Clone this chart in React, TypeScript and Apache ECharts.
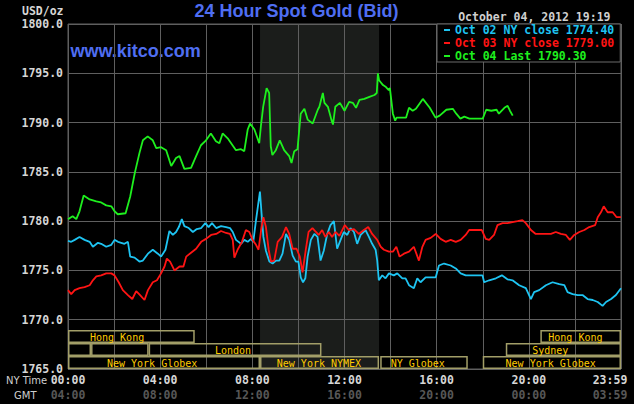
import React, { useEffect, useRef } from "react";
import * as echarts from "echarts";

// ---------- data ----------
const SERIES_NAMES = ["Oct 02 NY close 1774.40", "Oct 03 NY close 1779.00", "Oct 04 Last 1790.30"];
const SERIES_COLORS = ["#1ec4f2", "#ff1414", "#1ef01e"];

// [NY hour, price]
const oct02: [number, number][] = [
  [0, 1778.0], [0.14, 1777.9], [0.29, 1778.1], [0.5, 1778.4], [0.72, 1778.1], [0.94, 1777.9], [1.08, 1777.4],
  [1.3, 1777.8], [1.44, 1777.7], [1.66, 1777.4], [1.88, 1777.6], [2.02, 1778.1], [2.17, 1777.9], [2.31, 1777.8],
  [2.45, 1777.7], [2.6, 1777.9], [2.7, 1776.4], [2.89, 1776.3], [3.1, 1775.9], [3.25, 1776.0], [3.47, 1776.7],
  [3.68, 1777.1], [3.9, 1776.7], [4.04, 1776.4], [4.23, 1777.1], [4.4, 1779.0], [4.55, 1778.6], [4.69, 1778.9],
  [4.81, 1779.4], [4.94, 1780.2], [5.05, 1779.5], [5.24, 1779.3], [5.42, 1778.9], [5.59, 1779.2], [5.78, 1779.3],
  [5.96, 1779.8], [6.1, 1779.4], [6.25, 1779.8], [6.43, 1779.3], [6.64, 1779.5], [6.86, 1779.4], [7.03, 1779.3],
  [7.15, 1778.9], [7.29, 1778.1], [7.51, 1777.7], [7.65, 1778.1], [7.8, 1777.9], [7.94, 1778.2], [8.04, 1777.9],
  [8.16, 1780.1], [8.26, 1781.8], [8.33, 1783.0], [8.4, 1780.8], [8.48, 1778.4], [8.59, 1777.0], [8.74, 1775.9],
  [8.88, 1775.7], [9.03, 1776.0], [9.17, 1776.0], [9.31, 1776.7], [9.46, 1778.7], [9.6, 1778.1], [9.75, 1776.5],
  [9.89, 1775.9], [10.0, 1775.9], [10.1, 1774.3], [10.2, 1773.8], [10.3, 1774.2], [10.4, 1776.4], [10.54, 1778.1],
  [10.69, 1778.7], [10.83, 1778.4], [10.96, 1776.0], [11.1, 1777.0], [11.25, 1778.7], [11.39, 1779.6], [11.54, 1780.0],
  [11.68, 1777.2], [11.83, 1778.1], [11.97, 1778.9], [12.12, 1778.6], [12.26, 1779.3], [12.41, 1778.9], [12.55, 1777.7],
  [12.7, 1778.6], [12.91, 1779.1], [13.06, 1778.4], [13.2, 1777.7], [13.35, 1777.1], [13.42, 1776.0], [13.49, 1774.0],
  [13.64, 1774.5], [13.78, 1774.2], [13.93, 1774.7], [14.14, 1774.5], [14.29, 1774.7], [14.51, 1774.2], [14.65, 1774.2],
  [14.8, 1773.5], [15.01, 1773.2], [15.16, 1774.2], [15.3, 1773.8], [15.52, 1774.3], [15.74, 1774.3], [15.96, 1774.3],
  [16.1, 1775.5], [16.32, 1775.7], [16.61, 1775.5], [16.83, 1775.2], [17.04, 1774.7], [17.26, 1774.5], [17.99, 1774.5],
  [18.06, 1773.8], [18.28, 1774.0], [18.57, 1774.2], [18.83, 1774.5], [19.07, 1774.1], [19.29, 1774.0], [19.58, 1773.5],
  [19.87, 1773.2], [20.09, 1772.1], [20.23, 1772.8], [20.45, 1773.0], [20.74, 1773.5], [21.03, 1773.8], [21.32, 1773.6],
  [21.54, 1773.5], [21.68, 1772.8], [21.9, 1772.6], [22.12, 1772.5], [22.33, 1772.5], [22.55, 1772.1], [22.77, 1772.0],
  [22.99, 1771.8], [23.2, 1771.4], [23.35, 1771.8], [23.57, 1772.1], [23.78, 1772.5], [24, 1773.2],
];

const oct03: [number, number][] = [
  [0, 1773.0], [0.14, 1772.6], [0.29, 1773.0], [0.5, 1773.2], [0.72, 1773.3], [0.94, 1773.5], [1.08, 1774.0],
  [1.23, 1774.4], [1.44, 1774.5], [1.66, 1774.7], [1.88, 1774.7], [2.02, 1774.5], [2.2, 1773.8], [2.38, 1773.0],
  [2.6, 1772.5], [2.79, 1772.1], [2.96, 1772.9], [3.13, 1772.5], [3.32, 1772.0], [3.47, 1773.0], [3.68, 1773.8],
  [3.86, 1774.0], [4.04, 1774.7], [4.19, 1775.4], [4.29, 1776.2], [4.43, 1775.9], [4.62, 1775.0], [4.84, 1775.4],
  [5.01, 1775.4], [5.13, 1776.4], [5.34, 1776.8], [5.56, 1777.2], [5.78, 1777.9], [5.99, 1778.2], [6.21, 1778.6],
  [6.43, 1778.7], [6.64, 1779.0], [6.86, 1778.8], [7.03, 1778.7], [7.15, 1778.1], [7.22, 1776.3], [7.36, 1777.1],
  [7.55, 1777.9], [7.72, 1779.1], [7.87, 1778.9], [8.01, 1778.1], [8.16, 1777.6], [8.27, 1777.1], [8.38, 1779.1],
  [8.48, 1780.4], [8.59, 1779.4], [8.71, 1777.1], [8.81, 1775.9], [8.95, 1776.0], [9.1, 1777.9], [9.29, 1778.4],
  [9.46, 1779.4], [9.6, 1778.7], [9.75, 1777.2], [9.92, 1777.2], [10.06, 1776.4], [10.18, 1774.8], [10.32, 1777.1],
  [10.44, 1778.9], [10.61, 1779.3], [10.76, 1778.9], [10.88, 1778.6], [11.03, 1779.1], [11.17, 1778.4], [11.32, 1778.9],
  [11.46, 1778.4], [11.61, 1778.9], [11.78, 1778.5], [12.01, 1779.6], [12.19, 1779.1], [12.41, 1779.2], [12.62, 1778.7],
  [12.84, 1779.1], [13.03, 1779.4], [13.2, 1778.7], [13.42, 1778.1], [13.57, 1777.4], [13.71, 1777.1], [13.93, 1776.9],
  [14.1, 1776.9], [14.25, 1777.4], [14.39, 1776.4], [14.58, 1776.7], [14.8, 1776.9], [15.01, 1777.4], [15.23, 1776.0],
  [15.38, 1777.4], [15.52, 1778.1], [15.74, 1778.3], [15.96, 1778.7], [16.17, 1778.2], [16.39, 1777.9], [16.61, 1778.1],
  [16.83, 1777.9], [17.04, 1778.1], [17.26, 1778.6], [17.41, 1779.1], [17.96, 1779.1], [18.13, 1778.2], [18.28, 1778.1],
  [18.49, 1778.6], [18.64, 1779.6], [18.86, 1779.8], [19.07, 1779.8], [19.29, 1779.9], [19.51, 1780.0], [19.72, 1780.1],
  [19.87, 1779.8], [20.09, 1779.1], [20.3, 1778.7], [20.52, 1778.7], [20.74, 1778.7], [20.96, 1778.7], [21.17, 1778.9],
  [21.39, 1778.7], [21.61, 1778.6], [21.78, 1778.1], [21.97, 1778.6], [22.19, 1778.9], [22.41, 1779.1], [22.62, 1779.4],
  [22.88, 1779.6], [22.99, 1780.4], [23.13, 1780.9], [23.25, 1781.5], [23.42, 1780.9], [23.64, 1780.9], [23.81, 1780.4],
  [24, 1780.4],
];

const oct04: [number, number][] = [
  [0, 1780.2], [0.2, 1780.5], [0.36, 1780.2], [0.5, 1781.0], [0.68, 1782.6], [0.94, 1782.2], [1.23, 1782.0],
  [1.44, 1781.9], [1.66, 1781.6], [1.88, 1781.5], [2.02, 1781.0], [2.16, 1780.7], [2.5, 1780.8], [2.7, 1782.5],
  [2.9, 1784.9], [3.1, 1786.9], [3.25, 1788.2], [3.46, 1788.6], [3.68, 1788.2], [3.83, 1787.4], [4.04, 1787.5],
  [4.26, 1787.2], [4.48, 1785.6], [4.69, 1786.4], [4.84, 1786.6], [5.05, 1785.3], [5.34, 1785.4], [5.56, 1786.6],
  [5.77, 1787.7], [5.99, 1788.2], [6.2, 1788.9], [6.42, 1788.1], [6.57, 1787.9], [6.71, 1788.9], [6.93, 1788.4],
  [7.14, 1787.7], [7.29, 1787.2], [7.51, 1787.3], [7.65, 1787.1], [7.8, 1789.3], [7.9, 1789.9], [8.09, 1789.3],
  [8.3, 1787.9], [8.37, 1789.6], [8.47, 1791.6], [8.62, 1793.5], [8.73, 1793.0], [8.8, 1787.6], [8.87, 1786.7],
  [9.02, 1787.2], [9.19, 1788.2], [9.38, 1787.2], [9.6, 1786.6], [9.7, 1785.9], [9.82, 1787.1], [9.96, 1787.3],
  [10.1, 1790.9], [10.26, 1791.4], [10.4, 1790.3], [10.62, 1789.9], [10.84, 1791.3], [10.91, 1791.6], [11.06, 1793.0],
  [11.13, 1792.0], [11.28, 1791.6], [11.43, 1790.3], [11.5, 1789.8], [11.6, 1791.6], [11.8, 1792.0], [12.0, 1791.2],
  [12.2, 1792.1], [12.36, 1792.0], [12.5, 1791.5], [12.65, 1792.3], [12.86, 1792.4], [13.08, 1792.6], [13.3, 1792.8],
  [13.4, 1793.0], [13.45, 1795.0], [13.5, 1794.3], [13.67, 1793.8], [13.8, 1793.6], [13.92, 1793.3], [13.97, 1793.5],
  [14.1, 1790.9], [14.2, 1790.2], [14.26, 1790.5], [14.45, 1790.5], [14.67, 1790.5], [14.8, 1791.5], [14.96, 1791.2],
  [15.1, 1791.4], [15.4, 1792.4], [15.7, 1791.5], [15.95, 1790.5], [16.13, 1790.7], [16.42, 1791.3], [16.7, 1791.4],
  [16.85, 1790.9], [17.03, 1790.4], [17.2, 1790.6], [17.42, 1790.4], [18.0, 1790.4], [18.15, 1791.3], [18.37, 1791.2],
  [18.6, 1791.3], [18.7, 1790.9], [18.94, 1791.5], [19.08, 1791.7], [19.18, 1791.2], [19.3, 1790.7],
];

const hourTicks = [0, 4, 8, 12, 16, 20, 24];
const nyTimeLabels = ["00:00", "04:00", "08:00", "12:00", "16:00", "20:00", "23:59"];
const gmtLabels = ["04:00", "08:00", "12:00", "16:00", "20:00", "00:00", "03:59"];
const Y_MIN = 1765;
const Y_MAX = 1800;
const Y_STEP = 5;

// NYMEX pit session (NY hours)
const nymexSession: [number, number] = [8.333, 13.5];

// [name, row (0 = bottom), start hour, end hour, label hour]
const sessions: [string, number, number, number, number][] = [
  ["Hong Kong", 2, 0, 5.5, 2.13],
  ["Hong Kong", 2, 20.5, 24, 22.02],
  ["", 1, 0, 1, 0.5],
  ["", 1, 1, 3.5, 2.25],
  ["London", 1, 3.5, 11, 7.16],
  ["Sydney", 1, 19, 24, 20.93],
  ["New York Globex", 0, 0, 8.333, 3.65],
  ["New York NYMEX", 0, 8.333, 13.5, 10.89],
  ["NY Globex", 0, 13.55, 17.35, 15.18],
  ["New York Globex", 0, 18, 24, 20.95],
];

const TITLE = "24 Hour Spot Gold (Bid)";
const SITE = "www.kitco.com";
const UNIT = "USD/oz";
const STAMP = "October 04, 2012 19:19";

// ---------- chart ----------
const MONO = '"DejaVu Sans Mono", monospace';

export default function App() {
  const ref = useRef<HTMLDivElement>(null);

  useEffect(() => {
    if (!ref.current) return;
    const chart = echarts.init(ref.current, undefined, { renderer: "svg" });

    const tickLabel = (labels: string[]) => (v: number) => {
      const i = hourTicks.indexOf(v);
      if (i < 0) return "";
      if (i === hourTicks.length - 1) return "{last|" + labels[i] + "}";
      return labels[i];
    };

    const labelStyle = (color: string) => ({
      color,
      fontFamily: MONO,
      fontWeight: "bold",
      fontSize: 11.5,
    });

    const option: any = {
      animation: false,
      backgroundColor: "#000000",
      grid: [
        { left: 68, top: 24, width: 553, height: 345, show: true, borderColor: "#5f5f5f", borderWidth: 1, backgroundColor: "transparent" },
        { left: 68, top: 330, width: 553, height: 39, show: false },
      ],
      xAxis: [
        {
          gridIndex: 0, type: "value", min: 0, max: 24, interval: 2,
          axisLine: { show: false }, axisTick: { show: false },
          splitLine: { show: true, lineStyle: { color: "#5f5f5f", width: 1 } },
          axisLabel: {
            margin: 5, ...labelStyle("#d6d6d6"),
            formatter: tickLabel(nyTimeLabels),
            rich: { last: { ...labelStyle("#d6d6d6"), padding: [0, 22, 0, 0] } },
          },
        },
        {
          gridIndex: 0, type: "value", min: 0, max: 24, interval: 2, position: "bottom", offset: 15,
          axisLine: { show: false }, axisTick: { show: false }, splitLine: { show: false },
          axisLabel: {
            margin: 5, ...labelStyle("#575757"),
            formatter: tickLabel(gmtLabels),
            rich: { last: { ...labelStyle("#575757"), padding: [0, 22, 0, 0] } },
          },
        },
        { gridIndex: 1, type: "value", min: 0, max: 24, show: false },
      ],
      yAxis: [
        {
          gridIndex: 0, type: "value", min: Y_MIN, max: Y_MAX, interval: Y_STEP,
          axisLine: { show: false }, axisTick: { show: false },
          splitLine: { show: true, lineStyle: { color: "#5f5f5f", width: 1 } },
          axisLabel: { margin: 5, ...labelStyle("#d6d6d6"), formatter: (v: number) => v.toFixed(1) },
        },
        { gridIndex: 1, type: "value", min: 0, max: 3, show: false },
      ],
      legend: {
        orient: "vertical", left: 437, top: 24,
        padding: [0, 6, 0, 7], itemGap: 1, itemWidth: 6, itemHeight: 2, icon: "rect",
        backgroundColor: "#000000", borderColor: "#6a6a6a", borderWidth: 1,
        selectedMode: false,
        textStyle: { fontFamily: MONO, fontWeight: "bold", fontSize: 11.5, lineHeight: 12 },
        data: SERIES_NAMES.map((n, i) => ({ name: n, textStyle: { color: SERIES_COLORS[i] } })),
      },
      graphic: [
        { type: "text", x: 296.5, y: 11, style: { text: TITLE, fill: "#4f6ef2", font: 'bold 18px "Liberation Sans", Arial, sans-serif', align: "center", verticalAlign: "middle" } },
        { type: "text", x: 70.5, y: 51, style: { text: SITE, fill: "#4f6ef2", font: 'bold 18px "Liberation Sans", Arial, sans-serif', align: "left", verticalAlign: "middle" } },
        { type: "text", x: 63.5, y: 10.5, style: { text: UNIT, fill: "#d6d6d6", font: "bold 11.5px " + MONO, align: "right", verticalAlign: "middle" } },
        { type: "text", x: 610.5, y: 16.5, style: { text: STAMP, fill: "#cfcfcf", font: "bold 11.5px " + MONO, align: "right", verticalAlign: "middle" } },
        { type: "text", x: 6, y: 380.5, style: { text: "NY Time", fill: "#cfcfcf", font: '10px "DejaVu Sans", sans-serif', align: "left", verticalAlign: "middle" } },
        { type: "text", x: 14, y: 395.5, style: { text: "GMT", fill: "#cfcfcf", font: '10px "DejaVu Sans", sans-serif', align: "left", verticalAlign: "middle" } },
      ],
      series: [
        {
          type: "custom", name: "nymex-shade", xAxisIndex: 0, yAxisIndex: 0, z: -1, silent: true,
          data: [nymexSession],
          renderItem: (params: any, api: any) => {
            const p0 = api.coord([api.value(0), Y_MAX]);
            const p1 = api.coord([api.value(1), Y_MIN]);
            return { type: "rect", shape: { x: p0[0], y: p0[1], width: p1[0] - p0[0], height: p1[1] - p0[1] }, style: { fill: "#1b1d1b" } };
          },
        },
        ...[oct02, oct03, oct04].map((d, i) => ({
          type: "line", name: SERIES_NAMES[i], xAxisIndex: 0, yAxisIndex: 0,
          data: d, showSymbol: false, symbol: "none", color: SERIES_COLORS[i],
          lineStyle: { width: 1.8, color: SERIES_COLORS[i] }, z: 2 + i,
        })),
        {
          type: "custom", name: "sessions", xAxisIndex: 2, yAxisIndex: 1, z: 6, silent: true,
          data: sessions.map((s) => [s[2], s[3], s[1], s[4]]),
          renderItem: (params: any, api: any) => {
            const st = api.value(0), en = api.value(1), row = api.value(2), lab = api.value(3);
            const p0 = api.coord([st, row + 1]);
            const p1 = api.coord([en, row]);
            const lp = api.coord([lab, row + 0.5]);
            const name = sessions[params.dataIndex][0];
            return {
              type: "group",
              children: [
                { type: "rect", shape: { x: p0[0] + 0.75, y: p0[1] + 0.75, width: p1[0] - p0[0] - 1.5, height: p1[1] - p0[1] - 1.5 }, style: { fill: "none", stroke: "#a29e68", lineWidth: 1.5 } },
                { type: "text", x: lp[0], y: lp[1] + 0.5, style: { text: name, fill: "#ffcc00", font: "10px " + MONO, align: "center", verticalAlign: "middle" } },
              ],
            };
          },
        },
      ],
    };

    chart.setOption(option);
    return () => chart.dispose();
  }, []);

  return <div ref={ref} style={{ position: "fixed", left: 0, top: 0, width: 634, height: 404 }} />;
}
